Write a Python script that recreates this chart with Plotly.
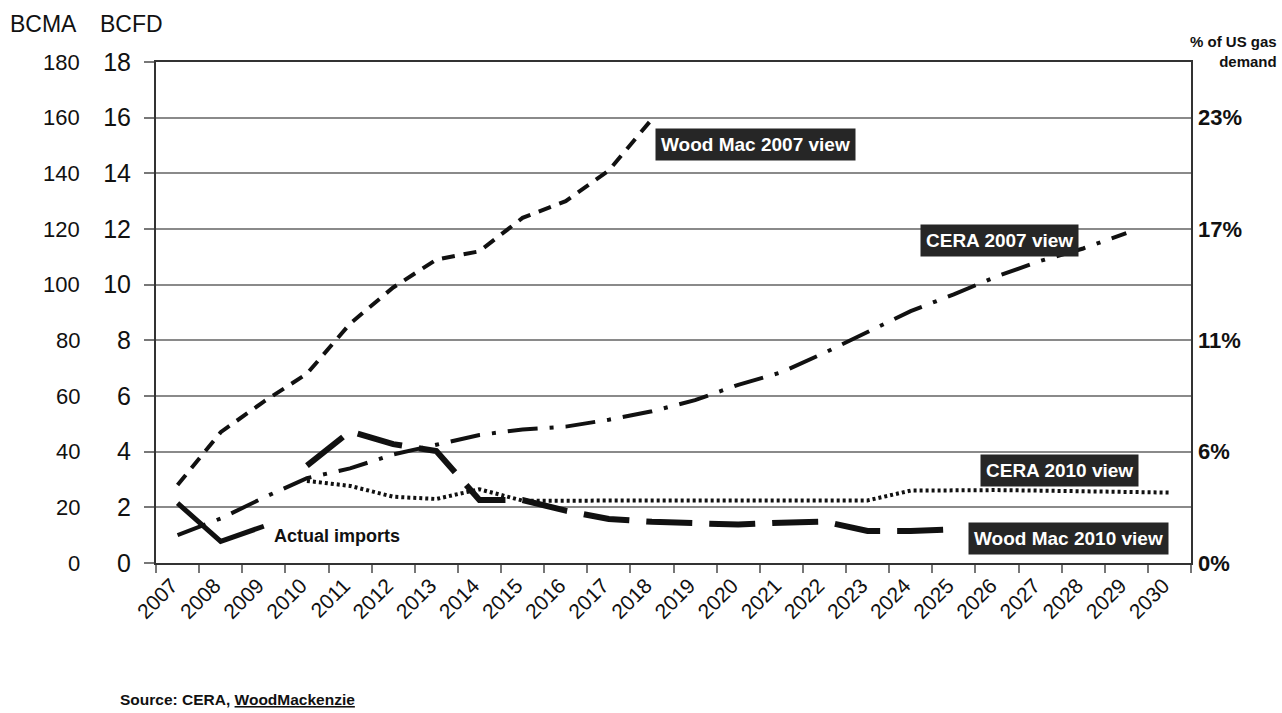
import plotly.graph_objects as go

# ---------------- data ----------------
years = ["2007", "2008", "2009", "2010", "2011", "2012", "2013", "2014", "2015",
         "2016", "2017", "2018", "2019", "2020", "2021", "2022", "2023", "2024",
         "2025", "2026", "2027", "2028", "2029", "2030"]

wm2007_years = years[0:12]
wm2007_vals = [2.8, 4.7, 5.8, 6.8, 8.6, 9.9, 10.9, 11.2, 12.4, 13.0, 14.1, 15.95]

cera2007_years = years[0:23]
cera2007_vals = [1.0, 1.6, 2.35, 3.05, 3.4, 3.9, 4.25, 4.6, 4.8, 4.9, 5.15, 5.45,
                 5.85, 6.4, 6.85, 7.55, 8.3, 9.05, 9.65, 10.3, 10.85, 11.3, 11.85]

cera2010_years = years[3:]
cera2010_vals = [2.95, 2.77, 2.38, 2.3, 2.65, 2.24, 2.24, 2.24, 2.24, 2.24, 2.24,
                 2.24, 2.24, 2.25, 2.6, 2.62, 2.62, 2.6, 2.58, 2.56, 2.53]

wm2010_years = years[3:19]
wm2010_vals = [3.5, 4.73, 4.27, 4.02, 2.26, 2.26, 1.88, 1.58, 1.48, 1.43, 1.38,
               1.45, 1.49, 1.15, 1.15, 1.21]

actual_years = years[0:3]
actual_vals = [2.15, 0.78, 1.32]

bcfd_ticks = [0, 2, 4, 6, 8, 10, 12, 14, 16, 18]
bcma_ticks = [0, 20, 40, 60, 80, 100, 120, 140, 160, 180]
pct_ticks = [0, 4, 8, 12, 16]
pct_labels = ["0%", "6%", "11%", "17%", "23%"]

# ---------------- figure ----------------
FONT = "Liberation Sans, Arial, sans-serif"
INK = "#111111"

fig = go.Figure()

fig.add_trace(go.Scatter(x=wm2007_years, y=wm2007_vals, mode="lines",
                         line=dict(color=INK, width=4, dash="13px,9px"),
                         name="Wood Mac 2007 view"))
fig.add_trace(go.Scatter(x=cera2007_years, y=cera2007_vals, mode="lines",
                         line=dict(color=INK, width=4, dash="30px,12px,4px,12px"),
                         name="CERA 2007 view"))
fig.add_trace(go.Scatter(x=cera2010_years, y=cera2010_vals, mode="lines",
                         line=dict(color=INK, width=4, dash="3px,3px"),
                         name="CERA 2010 view"))
fig.add_trace(go.Scatter(x=wm2010_years, y=wm2010_vals, mode="lines",
                         line=dict(color=INK, width=6, dash="46px,17px"),
                         name="Wood Mac 2010 view"))
fig.add_trace(go.Scatter(x=actual_years, y=actual_vals, mode="lines",
                         line=dict(color=INK, width=5),
                         name="Actual imports"))
# invisible trace to activate right axis
fig.add_trace(go.Scatter(x=[years[0]], y=[0], yaxis="y2", mode="markers",
                         marker=dict(opacity=0), showlegend=False, hoverinfo="skip"))

# labels with dark boxes (data coordinates: category index, BCFD value)
box_labels = [
    ("Wood Mac 2007 view", 13.41, 15.04),
    ("CERA 2007 view", 19.07, 11.6),
    ("CERA 2010 view", 20.46, 3.34),
    ("Wood Mac 2010 view", 20.67, 0.88),
]
for text, xi, yv in box_labels:
    fig.add_annotation(x=xi, y=yv, xref="x", yref="y", text="<b>%s</b>" % text,
                       showarrow=False, bgcolor="#262626", borderpad=5,
                       font=dict(family=FONT, size=19, color="white"),
                       xanchor="center", yanchor="middle")

fig.add_annotation(x=3.7, y=0.97, xref="x", yref="y", text="<b>Actual imports</b>",
                   showarrow=False, font=dict(family=FONT, size=18, color=INK),
                   xanchor="center", yanchor="middle")

# BCMA column of the left scale
for v_bcma, v_bcfd in zip(bcma_ticks, bcfd_ticks):
    fig.add_annotation(x=-0.0715, y=v_bcfd, xref="paper", yref="y", text=str(v_bcma),
                       showarrow=False, xanchor="right", yanchor="middle",
                       font=dict(family=FONT, size=22, color=INK))

fig.add_annotation(x=-0.109, y=1.076, xref="paper", yref="paper", text="BCMA",
                   showarrow=False, xanchor="center", yanchor="middle",
                   font=dict(family=FONT, size=23, color=INK))
fig.add_annotation(x=-0.0235, y=1.076, xref="paper", yref="paper", text="BCFD",
                   showarrow=False, xanchor="center", yanchor="middle",
                   font=dict(family=FONT, size=23, color=INK))
fig.add_annotation(x=1.085, y=1.02, xref="paper", yref="paper",
                   text="<b>% of US gas<br>demand</b>", align="right",
                   showarrow=False, xanchor="right", yanchor="middle",
                   font=dict(family=FONT, size=15, color=INK))
fig.add_annotation(x=-0.0367, y=-0.273, xref="paper", yref="paper",
                   text="<b>Source: CERA, <u>WoodMackenzie</u></b>",
                   showarrow=False, xanchor="left", yanchor="middle",
                   font=dict(family=FONT, size=15.5, color=INK))

fig.update_layout(
    width=1282, height=713,
    margin=dict(l=156, r=91, t=62, b=150),
    paper_bgcolor="white", plot_bgcolor="white",
    showlegend=False,
    xaxis=dict(type="category", categoryorder="array", categoryarray=years,
               tickvals=years, ticktext=years, tickangle=-45,
               tickson="boundaries", ticks="outside", ticklen=8, tickcolor="#777",
               tickwidth=2, ticklabelshift=-6,
               showline=True, linecolor="#333", linewidth=2, mirror=True,
               showgrid=False, range=[-0.5, 23.5],
               tickfont=dict(family=FONT, size=21, color=INK)),
    yaxis=dict(range=[0, 18], tickvals=bcfd_ticks, ticks="outside", ticklen=10,
               tickcolor="#777", tickwidth=2,
               showline=True, linecolor="#333", linewidth=2, mirror=True,
               showgrid=True, gridcolor="#8a8a8a", gridwidth=2,
               zeroline=False, ticklabelstandoff=8,
               tickfont=dict(family=FONT, size=25, color=INK)),
    yaxis2=dict(range=[0, 18], overlaying="y", side="right",
                tickvals=pct_ticks, ticktext=["<b>%s</b>" % t for t in pct_labels],
                ticks="", ticklabelstandoff=6,
                showgrid=False, showline=False, zeroline=False,
                tickfont=dict(family=FONT, size=22, color=INK)),
)

fig.write_html("out.html",
               config={"displayModeBar": False},
               post_script="document.body.style.margin='0';document.body.style.overflow='hidden';")
